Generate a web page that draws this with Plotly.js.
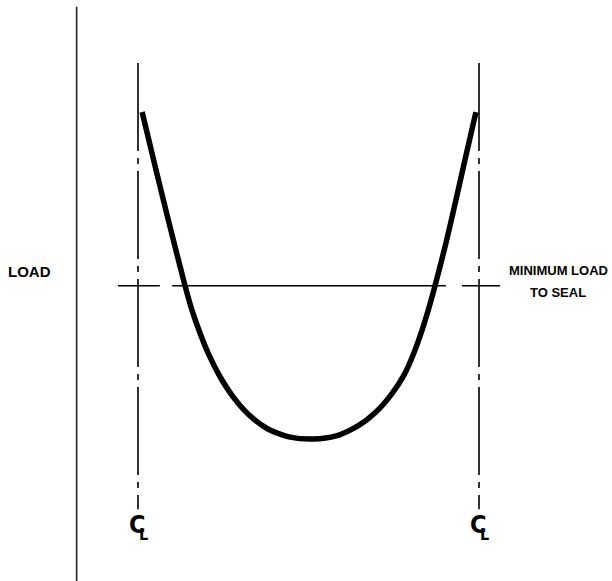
<!DOCTYPE html>
<html>
<head>
<meta charset="utf-8">
<script src="https://cdn.plot.ly/plotly-3.0.1.min.js"></script>
<style>html,body{margin:0;padding:0;background:#fff;}#chart{width:612px;height:581px;}</style>
</head>
<body>
<div id="chart"></div>
<script>
// Position across seal (0 = left centerline, 100 = right centerline)
const sealPosition = [1.2, 4.1, 7.3, 10.6, 13.8, 15.8, 18.2, 20.8, 24.1, 27.9, 32.6, 38.1, 44.6, 51.3,
                      58.1, 64.5, 69.8, 74.2, 78.0, 80.9, 83.3, 85.3, 87.1, 90.3, 93.3, 96.2, 99.1];
// Load (arbitrary units)
const sealLoad = [100, 89.4, 77.8, 66.2, 55.2, 49.0, 43.0, 37.4, 31.7, 26.6, 21.9, 18.3, 16.2, 15.7,
                  16.5, 19.1, 22.7, 27.1, 32.2, 37.9, 43.8, 49.5, 55.2, 66.2, 77.6, 88.9, 100];
const minimumLoad = 55.2;
const centerlines = [0, 100];
const centerlineSpan = [112.6, -2.4];
const loadAxisX = -18.0;
const loadAxisSpan = [127.1, -20.9];
// Minimum-load line segments (x extents)
const minLoadSegments = [[-5.9, 6.4], [10.0, 90.3], [95.0, 106.2]];

const traces = [];
traces.push({x:[loadAxisX, loadAxisX], y:loadAxisSpan, mode:'lines', line:{color:'#222', width:1.6}, hoverinfo:'skip'});
centerlines.forEach(c => {
  traces.push({x:[c, c], y:centerlineSpan, mode:'lines', line:{color:'#000', width:1.6, dash:'88px,7px,6px,7px'}, hoverinfo:'skip'});
});
minLoadSegments.forEach(s => {
  traces.push({x:s, y:[minimumLoad, minimumLoad], mode:'lines', line:{color:'#000', width:1.5}, hoverinfo:'skip'});
});
traces.push({x:sealPosition, y:sealLoad, mode:'lines', line:{color:'#000', width:5.5, shape:'spline', smoothing:0.7}, hoverinfo:'skip'});

const bold = {family:'Liberation Sans, Arial, sans-serif', size:15, color:'#000', weight:'bold'};
const right = {family:'Liberation Sans, Arial, sans-serif', size:13, color:'#000', weight:'bold'};
const clFont = {family:'DejaVu Sans Condensed, DejaVu Sans, sans-serif', size:25, color:'#000'};
const clSub = {family:'DejaVu Sans Condensed, DejaVu Sans, sans-serif', size:16, color:'#000'};
const annotations = [
  {x:-31.7, y:59.0, text:'<b>LOAD</b>', showarrow:false, font:bold, xanchor:'center', yanchor:'middle'},
  {x:123.4, y:59.2, text:'<b>MINIMUM LOAD</b>', showarrow:false, font:right, xanchor:'center', yanchor:'middle'},
  {x:123.2, y:53.6, text:'<b>TO SEAL</b>', showarrow:false, font:right, xanchor:'center', yanchor:'middle'}
];
centerlines.forEach(c => {
  annotations.push({x:c - 0.2, y:-6.2, text:'<b>C</b>', showarrow:false, font:clFont, xanchor:'center', yanchor:'middle'});
  annotations.push({x:c + 1.6, y:-8.9, text:'<b>L</b>', showarrow:false, font:clSub, xanchor:'center', yanchor:'middle'});
});

const layout = {
  width:612, height:581,
  margin:{l:0, r:0, t:0, b:0},
  paper_bgcolor:'#fff', plot_bgcolor:'#fff',
  showlegend:false,
  xaxis:{range:[-40.47, 139.0], visible:false, fixedrange:true},
  yaxis:{range:[-20.88, 128.87], visible:false, fixedrange:true},
  annotations:annotations
};
Plotly.newPlot('chart', traces, layout, {staticPlot:true, displayModeBar:false});
</script>
</body>
</html>
